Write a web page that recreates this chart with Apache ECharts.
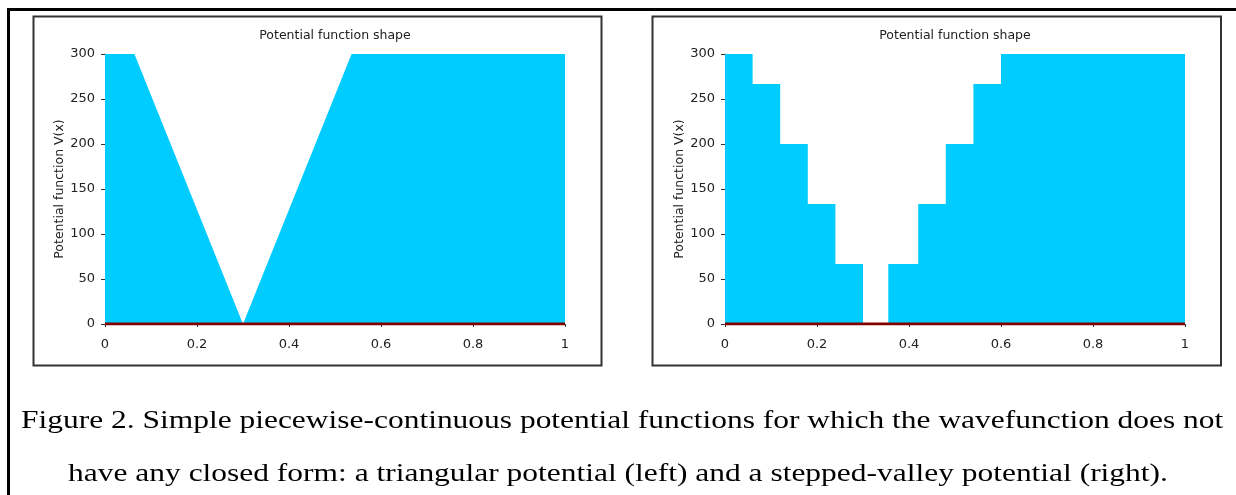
<!DOCTYPE html>
<html>
<head>
<meta charset="utf-8">
<title>Potential function shape</title>
<script src="https://cdn.jsdelivr.net/npm/echarts@6/dist/echarts.min.js"></script>
<style>
	html, body { margin: 0; padding: 0; background: #fff; }
	#main { width: 1236px; height: 495px; }
</style>
</head>
<body>
<div id="main"></div>
<script>
// 左图：三角势（折点）
var triX = [0, 0.064, 0.3, 0.536, 1];
var triV = [300, 300, 0, 300, 300];
// 右图：阶梯谷势（每段起点与高度）
var stepX = [0, 0.06, 0.12, 0.18, 0.24, 0.30, 0.355, 0.42, 0.48, 0.54, 0.60, 1];
var stepV = [300, 266.7, 200, 133.3, 66.7, 0, 66.7, 133.3, 200, 266.7, 300, 300];
// 坐标轴
var xMin = 0, xMax = 1, xStep = 0.2;
var yMin = 0, yMax = 300, yStep = 50;
var chartTitle = 'Potential function shape';
var yName = 'Potential function V(x)';
var caption1 = 'Figure 2. Simple piecewise-continuous potential functions for which the wavefunction does not';
var caption2 = 'have any closed form: a triangular potential (left) and a stepped-valley potential (right).';

var font = 'DejaVu Sans';
var fill = '#00CCFF';
var baseRed = '#800000';

function pairs(xs, vs) {
	var out = [];
	for (var i = 0; i < xs.length; i++) {
		out.push([xs[i], vs[i]]);
	}
	return out;
}

function xAxisOf(idx) {
	return {
		type: 'value',
		gridIndex: idx,
		min: xMin,
		max: xMax,
		interval: xStep,
		axisLine: { show: false },
		axisTick: { show: true, length: 3, lineStyle: { color: '#333' } },
		axisLabel: { color: '#222', fontFamily: font, fontSize: 13, margin: 14 },
		splitLine: { show: false }
	};
}

function yAxisOf(idx) {
	return {
		type: 'value',
		gridIndex: idx,
		min: yMin,
		max: yMax,
		interval: yStep,
		name: yName,
		nameLocation: 'middle',
		nameGap: 38,
		nameTextStyle: { color: '#222', fontFamily: font, fontSize: 12.5 },
		axisLine: { show: true, lineStyle: { color: '#888', width: 1 } },
		axisTick: { show: true, length: 4, lineStyle: { color: '#333' } },
		axisLabel: { color: '#222', fontFamily: font, fontSize: 13, margin: 10 },
		splitLine: { show: false }
	};
}

function areaSeries(idx, data, step) {
	return {
		type: 'line',
		xAxisIndex: idx,
		yAxisIndex: idx,
		data: data,
		step: step,
		symbol: 'none',
		silent: true,
		lineStyle: { width: 0 },
		areaStyle: { color: fill, opacity: 1 },
		z: 2
	};
}

function baseSeries(idx) {
	return {
		type: 'line',
		xAxisIndex: idx,
		yAxisIndex: idx,
		data: [[xMin, 0], [xMax, 0]],
		symbol: 'none',
		silent: true,
		lineStyle: { color: baseRed, width: 3 },
		z: 3
	};
}

var myChart = echarts.init(document.getElementById('main'), null, { renderer: 'canvas' });

var titleStyle = { fontFamily: font, fontSize: 12.5, fontWeight: 'normal', color: '#222' };

var option = {
	animation: false,
	backgroundColor: '#fff',
	title: [
		{ text: chartTitle, left: 335, top: 29, textAlign: 'center', padding: 0, textStyle: titleStyle },
		{ text: chartTitle, left: 955, top: 29, textAlign: 'center', padding: 0, textStyle: titleStyle }
	],
	grid: [
		{ left: 105, top: 54, width: 460, height: 270 },
		{ left: 725, top: 54, width: 460, height: 270 }
	],
	xAxis: [xAxisOf(0), xAxisOf(1)],
	yAxis: [yAxisOf(0), yAxisOf(1)],
	series: [
		areaSeries(0, pairs(triX, triV), false),
		baseSeries(0),
		areaSeries(1, pairs(stepX, stepV), 'end'),
		baseSeries(1)
	],
	graphic: [
		// 外框
		{ type: 'line', shape: { x1: 7, y1: 9.5, x2: 1236, y2: 9.5 }, style: { stroke: '#000', lineWidth: 3 } },
		{ type: 'line', shape: { x1: 8.5, y1: 8, x2: 8.5, y2: 495 }, style: { stroke: '#000', lineWidth: 3 } },
		// 图框
		{ type: 'rect', shape: { x: 33.5, y: 16.5, width: 568, height: 349 }, style: { fill: 'none', stroke: '#333', lineWidth: 2 }, z: -1 },
		{ type: 'rect', shape: { x: 652.5, y: 16.5, width: 568.5, height: 349 }, style: { fill: 'none', stroke: '#333', lineWidth: 2 }, z: -1 },
		// 图注（原图文字横向偏宽）
		{ type: 'text', x: 21, y: 408, scaleX: 1.21,
		  style: { text: caption1, font: '26px "Liberation Serif"', fill: '#000' } },
		{ type: 'text', x: 618, y: 461, scaleX: 1.21,
		  style: { text: caption2, font: '26px "Liberation Serif"', fill: '#000', textAlign: 'center' } }
	]
};

myChart.setOption(option);
window.onresize = function() {
	myChart.resize();
};
</script>
</body>
</html>
